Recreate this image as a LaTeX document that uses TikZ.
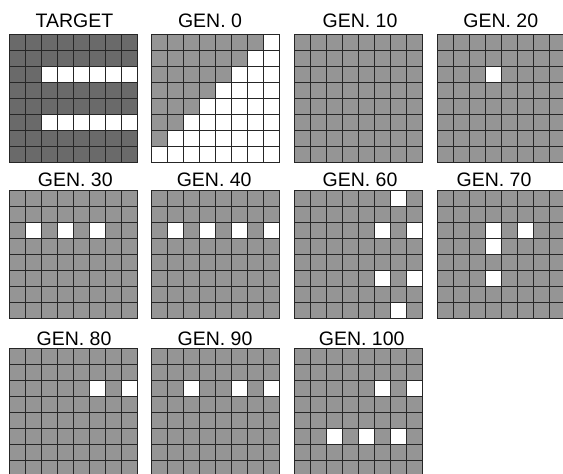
\documentclass[tikz,border=0pt]{standalone}
\usepackage{fontspec}
\setmainfont{Liberation Sans}
\definecolor{cellgray}{HTML}{959595}
\definecolor{celldark}{HTML}{6A6A6A}
\newcommand{\cellsz}{16}
\newcommand{\gridsz}{128}
% #1 x, #2 y, #3 colour
\newcommand{\cabase}[3]{%
  \fill[#3] (#1,#2) rectangle ++(\gridsz,\gridsz);}
% #1 x, #2 y, #3 list row/col of white cells
\newcommand{\cawhite}[3]{%
  \foreach \r/\c in {#3} {\fill[white] ({#1+\c*\cellsz},{#2+\r*\cellsz}) rectangle ++(\cellsz,\cellsz);}}
\newcommand{\calines}[2]{%
  \foreach \i in {0,...,8} {%
    \draw[gridline] ({#1+\i*\cellsz},#2) -- ++(0,\gridsz);
    \draw[gridline] (#1,{#2+\i*\cellsz}) -- ++(\gridsz,0);}}
\begin{document}
\begin{tikzpicture}[x=1pt,y=-1pt,
  gridline/.style={draw=black!85,line width=1.2pt,line cap=rect},
  title/.style={font=\fontsize{19.5}{20}\selectfont,anchor=base,inner sep=0pt}]
\useasboundingbox (0,0) rectangle (563,474);

% ---- row 1
\node[title] (tTarget) at (74.5,27) {TARGET};
\cabase{9.5}{34.5}{celldark}
\cawhite{9.5}{34.5}{2/2,2/3,2/4,2/5,2/6,2/7,5/2,5/3,5/4,5/5,5/6,5/7}
\calines{9.5}{34.5}

\node[title] (tG0) at (210,27) {GEN. 0};
\cabase{151.5}{34.5}{white}
\foreach \r in {0,...,6} {\fill[cellgray] (151.5,{34.5+\r*\cellsz}) rectangle ++({(7-\r)*\cellsz},\cellsz);}
\calines{151.5}{34.5}

\node[title] (tG10) at (360,27) {GEN. 10};
\cabase{294.5}{34.5}{cellgray}
\calines{294.5}{34.5}

\node[title] (tG20) at (500.8,27) {GEN. 20};
\cabase{437.5}{34.5}{cellgray}
\cawhite{437.5}{34.5}{2/3}
\calines{437.5}{34.5}

% ---- row 2
\node[title] (tG30) at (75.3,186.7) {GEN. 30};
\cabase{9.5}{190.5}{cellgray}
\cawhite{9.5}{190.5}{2/1,2/3,2/5}
\calines{9.5}{190.5}

\node[title] (tG40) at (214.2,186.7) {GEN. 40};
\cabase{151.5}{190.5}{cellgray}
\cawhite{151.5}{190.5}{2/1,2/3,2/5,2/7}
\calines{151.5}{190.5}

\node[title] (tG60) at (360,186.7) {GEN. 60};
\cabase{294.5}{190.5}{cellgray}
\cawhite{294.5}{190.5}{0/6,2/5,2/7,5/5,5/7,7/6}
\calines{294.5}{190.5}

\node[title] (tG70) at (494,186.7) {GEN. 70};
\cabase{437.5}{190.5}{cellgray}
\cawhite{437.5}{190.5}{2/3,3/3,2/5,5/3}
\calines{437.5}{190.5}

% ---- row 3
\node[title] (tG80) at (74,345.7) {GEN. 80};
\cabase{9.5}{348.5}{cellgray}
\cawhite{9.5}{348.5}{2/5,2/7}
\calines{9.5}{348.5}

\node[title] (tG90) at (215,345.7) {GEN. 90};
\cabase{151.5}{348.5}{cellgray}
\cawhite{151.5}{348.5}{2/2,2/5,2/7}
\calines{151.5}{348.5}

\node[title] (tG100) at (361.7,345.7) {GEN. 100};
\cabase{294.5}{348.5}{cellgray}
\cawhite{294.5}{348.5}{2/5,2/7,5/2,5/4,5/6}
\calines{294.5}{348.5}
\end{tikzpicture}
\end{document}
